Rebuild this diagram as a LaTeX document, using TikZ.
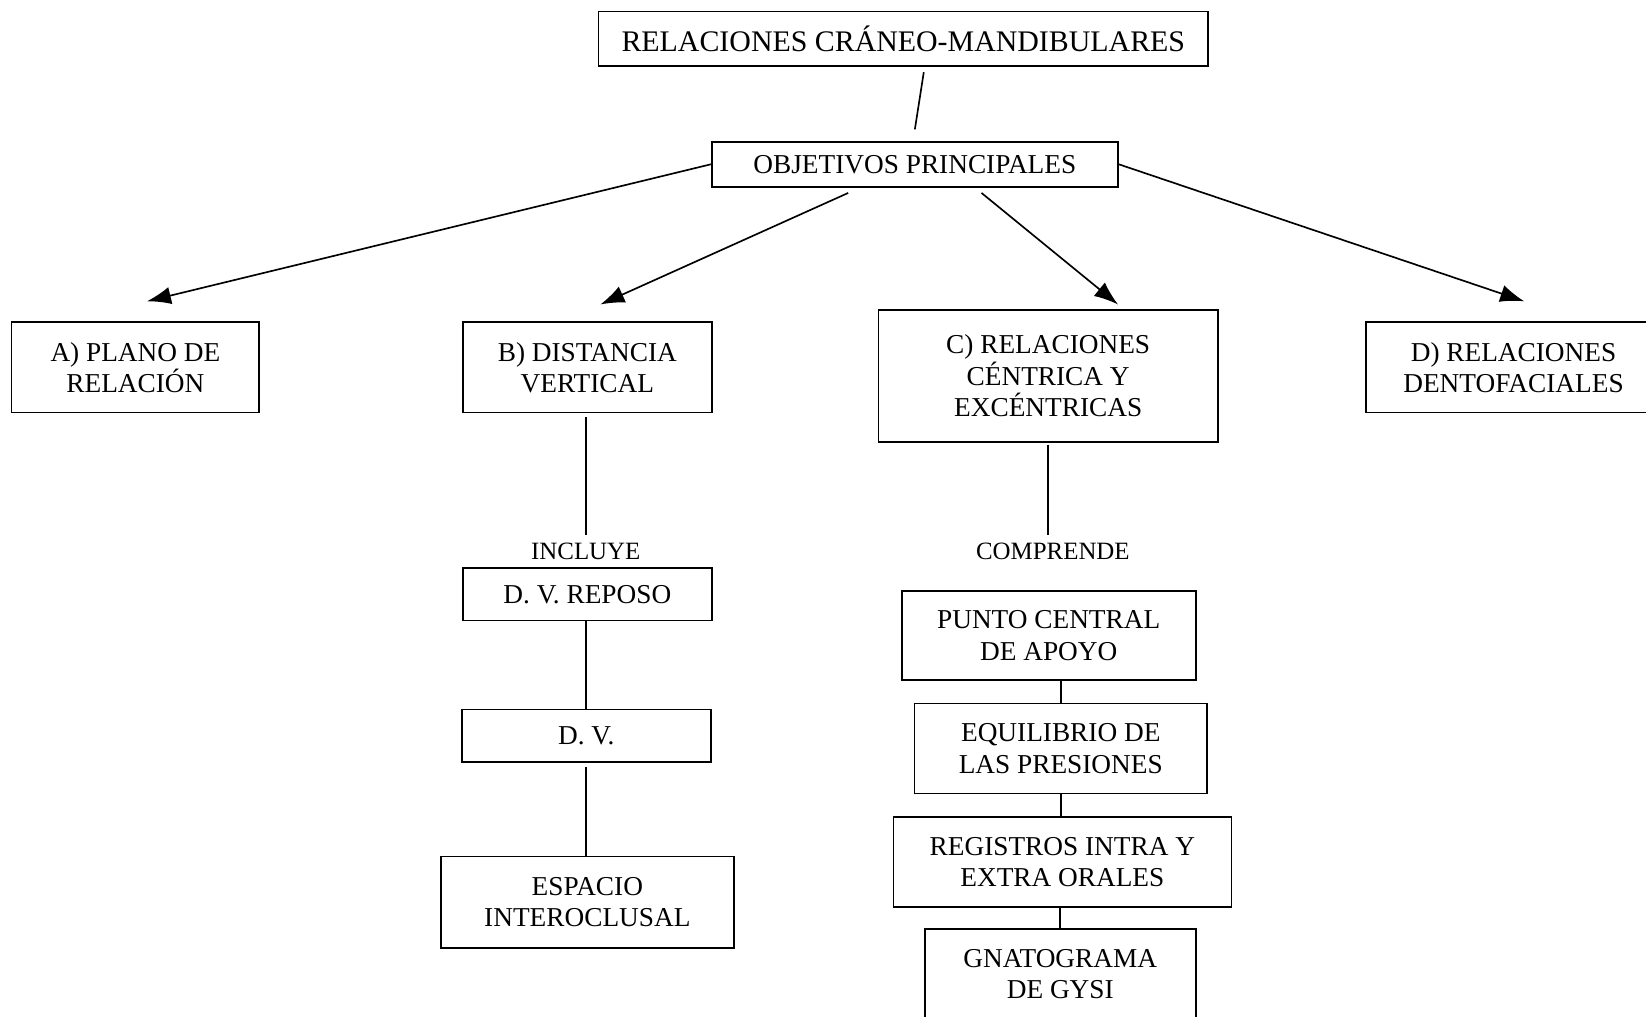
\documentclass[tikz,border=0pt]{standalone}
\usepackage{fontspec}
\setmainfont{Liberation Serif}
\usetikzlibrary{arrows.meta,calc}

\newcommand\titlefont{\fontsize{16.2}{18.5}\selectfont}
\newcommand\boxfont{\fontsize{14.8}{17}\selectfont}
\newcommand\cuefont{\fontsize{13.5}{15.5}\selectfont}
\newlength\px
\setlength\px{0.02cm}

\tikzset{
    mapbox/.style={draw, line width=0.9pt, align=center, inner sep=0pt, font=\boxfont},
    cue/.style={inner sep=4pt, font=\cuefont},
    link/.style={line width=0.9pt},
    arr/.style={line width=0.9pt, -{Latex[length=13pt,width=9.5pt]}}
}

\begin{document}
\begin{tikzpicture}[x=0.02cm, y=-0.02cm]
    % frame of the page
    \useasboundingbox (0,0) rectangle (1568,968);
    \clip (0,0) rectangle (1568,968);
    % draw the boxes
    \node[mapbox, font=\titlefont, minimum width=581*\px, minimum height=52*\px] (title) at (860.5,37) {RELACIONES CRÁNEO-MANDIBULARES};
    \node[mapbox, minimum width=387*\px, minimum height=43*\px] (obj) at (871.5,156.5) {OBJETIVOS PRINCIPALES};
    \node[mapbox, minimum width=236*\px, minimum height=86*\px] (pla) at (129,350) {A) PLANO DE\\RELACIÓN};
    \node[mapbox, minimum width=237*\px, minimum height=86*\px] (dis) at (559.5,350) {B) DISTANCIA\\VERTICAL};
    \node[mapbox, minimum width=323*\px, minimum height=126*\px] (rel) at (998.5,358) {C) RELACIONES\\CÉNTRICA Y\\EXCÉNTRICAS};
    \node[mapbox, minimum width=281*\px, minimum height=86*\px] (den) at (1441.8,350) {D) RELACIONES\\DENTOFACIALES};
    \node[cue] (incl) at (558,525) {INCLUYE};
    \node[mapbox, minimum width=237*\px, minimum height=50*\px] (rep) at (559.5,566) {D. V. REPOSO};
    \node[mapbox, minimum width=237*\px, minimum height=50*\px] (dv) at (558.5,701) {D. V.};
    \node[mapbox, minimum width=279*\px, minimum height=87*\px] (esp) at (559.5,859.5) {ESPACIO\\INTEROCLUSAL};
    \node[cue] (comp) at (1003,525) {COMPRENDE};
    \node[mapbox, minimum width=280*\px, minimum height=85*\px] (pun) at (999,605.5) {PUNTO CENTRAL\\DE APOYO};
    \node[mapbox, minimum width=279*\px, minimum height=86*\px] (equ) at (1010.5,713) {EQUILIBRIO DE\\LAS PRESIONES};
    \node[mapbox, minimum width=322*\px, minimum height=86*\px] (reg) at (1012,821) {REGISTROS INTRA Y\\EXTRA ORALES};
    \node[mapbox, minimum width=258*\px, minimum height=86*\px] (gna) at (1010,928) {GNATOGRAMA\\DE GYSI};
    % arrow tips
    \coordinate (tipA) at (140,287);
    \coordinate (tipB) at (572,290);
    \coordinate (tipC) at (1065,290);
    \coordinate (tipD) at (1452,287);
    % draw the arrows
    \draw[link] ($(title.south)+(19.5,5)$) -- ($(obj.north)+(0,-11)$);
    \draw[arr] (obj.west) -- (tipA);
    \draw[arr] ($(obj.south)+(-63.5,5)$) -- (tipB);
    \draw[arr] ($(obj.south)+(63.5,5)$) -- (tipC);
    \draw[arr] (obj.east) -- (tipD);
    % draw the lines
    \draw[link, shorten <=2pt] (dis.south -| incl.north) -- (incl.north);
    \draw[link] (rep.south -| dv.north) -- (dv.north);
    \draw[link, shorten <=2pt] (dv.south) -- (dv.south |- esp.north);
    \draw[link, shorten <=1pt] (rel.south) -- (rel.south |- comp.north);
    \draw[link] (pun.south -| equ.north) -- (equ.north);
    \draw[link] (equ.south) -- (reg.north -| equ.south);
    \draw[link] (reg.south -| gna.north) -- (gna.north);
\end{tikzpicture}
\end{document}
